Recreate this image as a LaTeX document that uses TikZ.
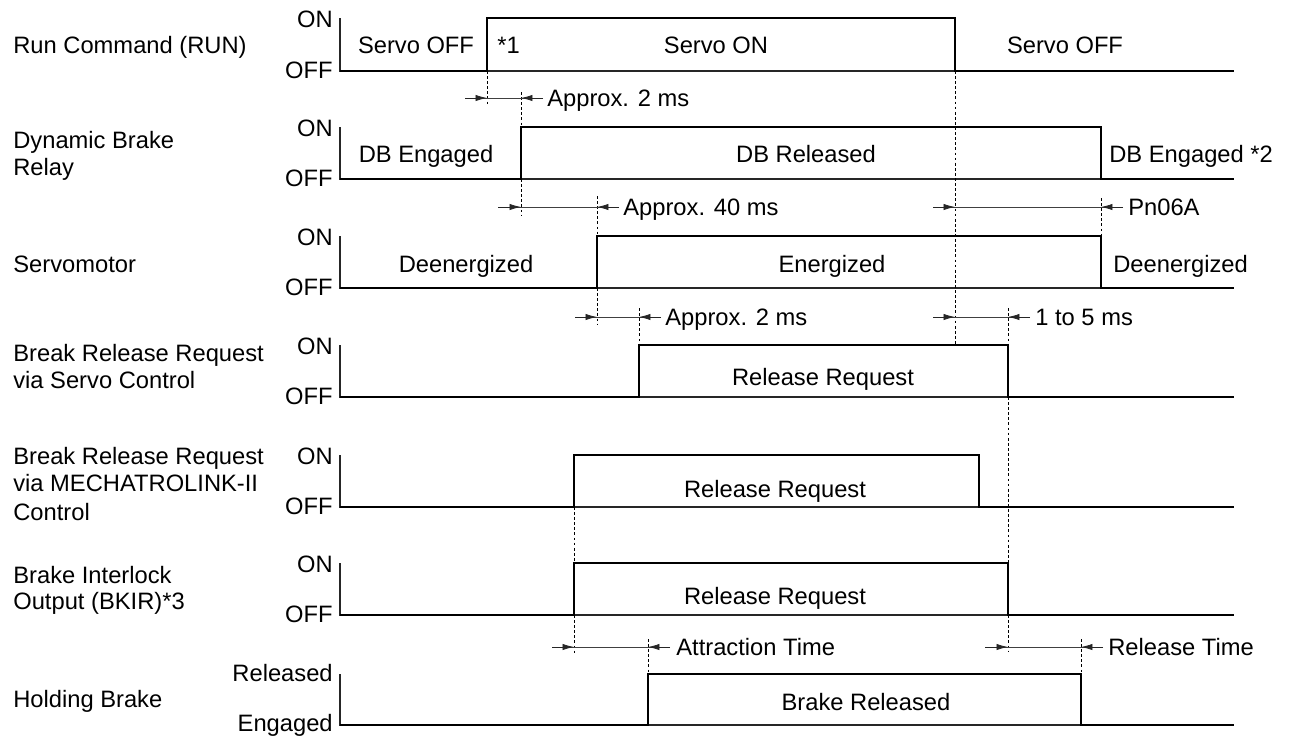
\documentclass[tikz,border=0pt]{standalone}
\usepackage{fontspec}
\setmainfont{Liberation Sans}
\usetikzlibrary{arrows.meta}

\begin{document}
\begin{tikzpicture}[x=0.02cm,y=-0.02cm,
  txt/.style={font=\fontsize{13.5}{16}\selectfont,inner sep=0pt,text height=9.6pt,text depth=0pt},
  sig/.style={line width=1.1pt,line join=miter},
  axis/.style={line width=0.6pt,black!85},
  guide/.style={line width=0.45pt,dash pattern=on 1.6pt off 1.3pt},
  dim/.style={line width=0.45pt,black!75},
  tip/.style={-{Latex[length=6.5pt,width=3.6pt]},line width=0.45pt,black!85}]
\useasboundingbox (0,0) rectangle (1295,737);

% row labels
\node[txt,anchor=west] (lrun) at (13,45) {Run Command (RUN)};
\node[txt,anchor=west] (ldb1) at (13,140) {Dynamic Brake};
\node[txt,anchor=west] (ldb2) at (13,167) {Relay};
\node[txt,anchor=west] (lsm) at (13,264) {Servomotor};
\node[txt,anchor=west] (lbs1) at (13,353) {Break Release Request};
\node[txt,anchor=west] (lbs2) at (13,380) {via Servo Control};
\node[txt,anchor=west] (lbm1) at (13,456) {Break Release Request};
\node[txt,anchor=west] (lbm2) at (13,483) {via MECHATROLINK-II};
\node[txt,anchor=west] (lbm3) at (13,512) {Control};
\node[txt,anchor=west] (lbk1) at (13,575) {Brake Interlock};
\node[txt,anchor=west] (lbk2) at (13,601) {Output (BKIR)*3};
\node[txt,anchor=west] (lhb) at (13,699) {Holding Brake};

% axes and base lines
\foreach \on/\off [count=\i] in {18/71,127/179,236/288,345/397,455/507,563/615}{
  \draw[axis] (340,\on) -- (340,\off) -- (1234,\off);
  \node[txt,anchor=east] (on\i) at (333,\on+1) {ON};
  \node[txt,anchor=east] (off\i) at (333,\off-1) {OFF};
}
\draw[axis] (340,674) -- (340,725) -- (1234,725);
\node[txt,anchor=east] (rel) at (333,673) {Released};
\node[txt,anchor=east] (eng) at (333,723) {Engaged};

% signals
\draw[sig] (340,71) -- (487,71) -- (487,18) -- (955,18) -- (955,71) -- (1234,71);
\draw[sig] (340,179) -- (521,179) -- (521,127) -- (1101,127) -- (1101,179) -- (1234,179);
\draw[sig] (340,288) -- (597,288) -- (597,236) -- (1101,236) -- (1101,288) -- (1234,288);
\draw[sig] (340,397) -- (639,397) -- (639,345) -- (1008,345) -- (1008,397) -- (1234,397);
\draw[sig] (340,507) -- (574,507) -- (574,455) -- (979,455) -- (979,507) -- (1234,507);
\draw[sig] (340,615) -- (574,615) -- (574,563) -- (1008,563) -- (1008,615) -- (1234,615);
\draw[sig] (340,725) -- (648,725) -- (648,674) -- (1081,674) -- (1081,725) -- (1234,725);

% texts in the signals
\node[txt] (soff1) at (416,45) {Servo OFF};
\node[txt,anchor=west] (n1) at (497,45) {*1};
\node[txt] (son) at (716,45) {Servo ON};
\node[txt] (soff2) at (1065,45) {Servo OFF};
\node[txt] (dbe1) at (426,154) {DB Engaged};
\node[txt] (dbr) at (806,154) {DB Released};
\node[txt,anchor=west] (dbe2) at (1109,154) {DB Engaged *2};
\node[txt] (den1) at (466,264) {Deenergized};
\node[txt] (ener) at (832,264) {Energized};
\node[txt,anchor=west] (den2) at (1113,264) {Deenergized};
\node[txt] (rq1) at (823,377) {Release Request};
\node[txt] (rq2) at (775,489) {Release Request};
\node[txt] (rq3) at (775,596) {Release Request};
\node[txt] (brel) at (866,702) {Brake Released};

% dotted guides
\draw[guide] (487,71) -- (487,105);
\draw[guide] (521,92) -- (521,127) (521,179) -- (521,215);
\draw[guide] (955,71) -- (955,345);
\draw[guide] (1101,198) -- (1101,236);
\draw[guide] (597,196) -- (597,236) (597,288) -- (597,325);
\draw[guide] (639,308) -- (639,345);
\draw[guide] (1008,308) -- (1008,345) (1008,397) -- (1008,563) (1008,615) -- (1008,652);
\draw[guide] (574,507) -- (574,563) (574,615) -- (574,655);
\draw[guide] (648,639) -- (648,674);
\draw[guide] (1081,639) -- (1081,674);

% time spans
\draw[dim] (465,98) -- (543,98);
\draw[tip] (465,98) -- (487,98);
\draw[tip] (543,98) -- (521,98);
\node[txt,anchor=west] (t2a) at (547,98) {Approx. 2 ms};

\draw[dim] (498,207) -- (619,207);
\draw[tip] (498,207) -- (521,207);
\draw[tip] (619,207) -- (597,207);
\node[txt,anchor=west] (t40) at (623,207) {Approx. 40 ms};

\draw[dim] (933,207) -- (1123,207);
\draw[tip] (933,207) -- (955,207);
\draw[tip] (1123,207) -- (1101,207);
\node[txt,anchor=west] (tpn) at (1128,207) {Pn06A};

\draw[dim] (575,317) -- (661,317);
\draw[tip] (575,317) -- (597,317);
\draw[tip] (661,317) -- (639,317);
\node[txt,anchor=west] (t2b) at (665,317) {Approx. 2 ms};

\draw[dim] (933,317) -- (1030,317);
\draw[tip] (933,317) -- (955,317);
\draw[tip] (1030,317) -- (1008,317);
\node[txt,anchor=west] (t15) at (1035,317) {1 to 5 ms};

\draw[dim] (552,647) -- (670,647);
\draw[tip] (552,647) -- (574,647);
\draw[tip] (670,647) -- (648,647);
\node[txt,anchor=west] (tat) at (676,647) {Attraction Time};

\draw[dim] (985,647) -- (1103,647);
\draw[tip] (985,647) -- (1008,647);
\draw[tip] (1103,647) -- (1081,647);
\node[txt,anchor=west] (trt) at (1108,647) {Release Time};
\end{tikzpicture}
\end{document}
